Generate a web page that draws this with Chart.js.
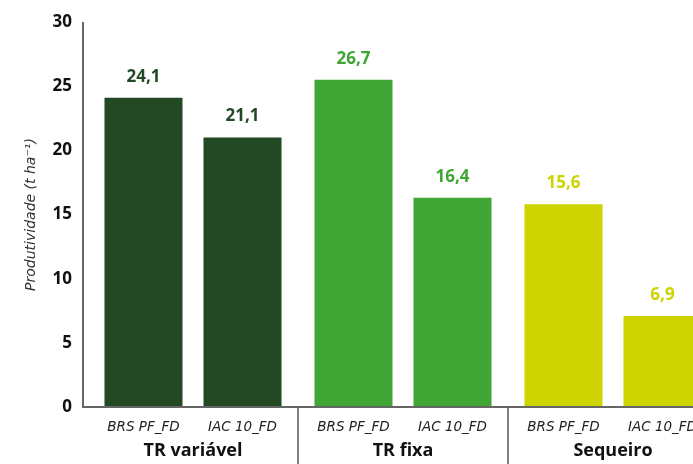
<!DOCTYPE html>
<html>
<head>
<meta charset="utf-8">
<script src="https://cdn.jsdelivr.net/npm/chart.js@4/dist/chart.umd.min.js"></script>
<style>
  html, body { margin: 0; padding: 0; background: #fff; overflow: hidden; }
  #wrap { width: 740px; height: 464px; }
</style>
</head>
<body>
<div id="wrap"><canvas id="chart" width="740" height="464"></canvas></div>
<script>
  // data
  let groups = ['TR variável', 'TR fixa', 'Sequeiro'];
  let cultivars = ['BRS PF_FD', 'IAC 10_FD'];
  let brsValues = [24.1, 25.5, 15.8];
  let iacValues = [21.0, 16.3, 7.1];
  let brsLabels = ['24,1', '26,7', '15,6'];
  let iacLabels = ['21,1', '16,4', '6,9'];
  let groupColors = ['#224824', '#3fa535', '#cdd400'];
  let yTicks = [0, 5, 10, 15, 20, 25, 30];

  const boldFont = "'Open Sans', sans-serif";
  const italicFont = "'DejaVu Sans', sans-serif";

  // draws axis lines, value labels, cultivar names, group names and separators
  const decorPlugin = {
    id: 'decor',
    afterDraw(chart) {
      let ctx = chart.ctx;
      let area = chart.chartArea;
      let xs = chart.scales.x;
      ctx.save();
      ctx.strokeStyle = '#666';
      ctx.lineWidth = 2;
      ctx.beginPath();
      ctx.moveTo(83, area.top);
      ctx.lineTo(83, area.bottom);
      ctx.lineTo(chart.width, area.bottom);
      ctx.stroke();

      // separators between groups
      ctx.strokeStyle = '#555';
      ctx.lineWidth = 1.5;
      for (let i = 0; i < groups.length - 1; i++) {
        let x = (xs.getPixelForValue(i) + xs.getPixelForValue(i + 1)) / 2;
        ctx.beginPath();
        ctx.moveTo(x, area.bottom);
        ctx.lineTo(x, chart.height);
        ctx.stroke();
      }

      ctx.textAlign = 'center';
      ctx.textBaseline = 'middle';
      let labelSets = [brsLabels, iacLabels];
      chart.data.datasets.forEach((ds, di) => {
        let meta = chart.getDatasetMeta(di);
        meta.data.forEach((bar, i) => {
          ctx.fillStyle = groupColors[i];
          ctx.font = 'bold 17px ' + boldFont;
          ctx.fillText(labelSets[di][i], bar.x, bar.y - 21);
          ctx.fillStyle = '#222';
          ctx.font = 'oblique 13.5px ' + italicFont;
          ctx.fillText(cultivars[di], bar.x, 427);
        });
      });

      ctx.fillStyle = '#111';
      ctx.font = 'bold 18px ' + boldFont;
      groups.forEach((g, i) => {
        ctx.fillText(g, xs.getPixelForValue(i), 451);
      });
      ctx.restore();
    }
  };

  new Chart(document.getElementById('chart'), {
    type: 'bar',
    data: {
      labels: groups,
      datasets: [
        { label: cultivars[0], data: brsValues, backgroundColor: groupColors },
        { label: cultivars[1], data: iacValues, backgroundColor: groupColors }
      ]
    },
    options: {
      responsive: false,
      animation: false,
      barPercentage: 0.788,
      categoryPercentage: 0.943,
      layout: { padding: { top: 22, right: 22, bottom: 0, left: 0 } },
      plugins: {
        legend: { display: false },
        tooltip: { enabled: false }
      },
      scales: {
        x: {
          ticks: { display: false },
          grid: { display: false },
          border: { display: false },
          afterFit(s) { s.height = 57; }
        },
        y: {
          min: 0,
          max: 30,
          afterBuildTicks(s) { s.ticks = yTicks.map(v => ({ value: v })); },
          ticks: {
            padding: 8,
            color: '#111',
            font: { family: boldFont, size: 17, weight: 'bold' }
          },
          grid: { display: false },
          border: { display: false },
          title: {
            display: true,
            text: 'Produtividade (t ha⁻¹)',
            color: '#333',
            padding: { top: 23, bottom: 0 },
            font: { family: italicFont, size: 14, style: 'oblique' }
          },
          afterFit(s) { s.width = 88; }
        }
      }
    },
    plugins: [decorPlugin]
  });
</script>
</body>
</html>
